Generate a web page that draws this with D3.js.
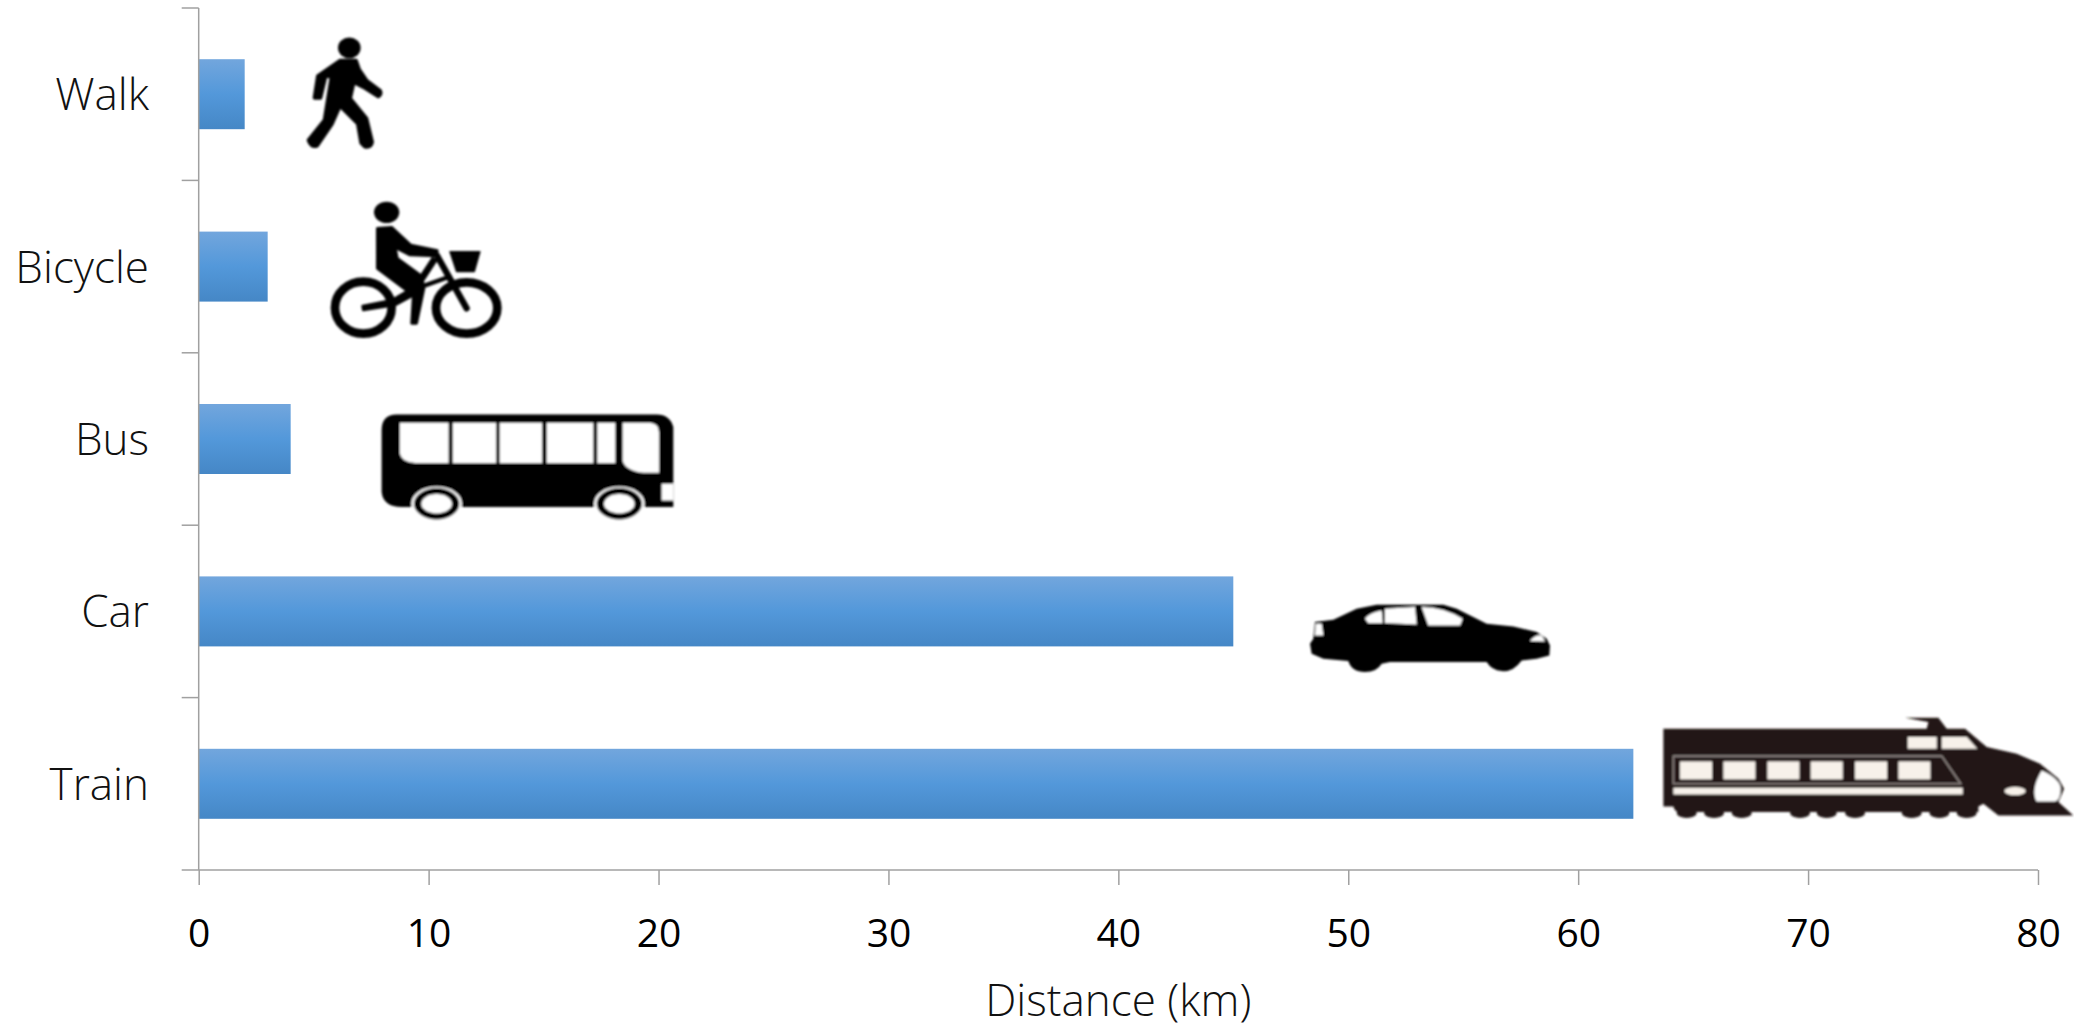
<!DOCTYPE html>
<html>
<head>
<meta charset="utf-8">
<style>
  html, body { margin: 0; padding: 0; background: #fff; }
  svg { display: block; }
  .cat { font-family: "Open Sans", sans-serif; font-weight: 300; font-size: 44px; fill: #111; }
  .num { font-family: "Open Sans", sans-serif; font-weight: 400; font-size: 39px; fill: #000; }
  .title { font-family: "Open Sans", sans-serif; font-weight: 300; font-size: 44px; fill: #111; }
</style>
<script src="https://cdn.jsdelivr.net/npm/d3@7"></script>
</head>
<body>
<script>
const categories = ["Walk", "Bicycle", "Bus", "Car", "Train"];
const distances = [2, 3, 4, 45, 62.4];
const xTicks = [0, 10, 20, 30, 40, 50, 60, 70, 80];
const xLabel = "Distance (km)";

const width = 2074, height = 1029;
const plot = { left: 198.7, right: 2038, top: 8, bottom: 870 };
const axisColor = "#a0a0a0";

const svg = d3.select("body").append("svg").attr("width", width).attr("height", height);
const defs = svg.append("defs");

const grad = defs.append("linearGradient").attr("id", "barFill")
  .attr("x1", 0).attr("y1", 0).attr("x2", 0).attr("y2", 1);
[[0, "#72a6dd"], [0.5, "#5398da"], [1, "#4587c6"]].forEach(([o, c]) =>
  grad.append("stop").attr("offset", o).attr("stop-color", c));

defs.append("filter").attr("id", "soft")
  .attr("x", "-5%").attr("y", "-5%").attr("width", "110%").attr("height", "110%")
  .append("feGaussianBlur").attr("stdDeviation", 2.4);

const x = d3.scaleLinear().domain([0, 80]).range([plot.left, plot.right]);
const y = d3.scaleBand().domain(categories).range([plot.top, plot.bottom]).paddingInner(0.594).paddingOuter(0.297);

// Bars
svg.append("g").selectAll("rect").data(distances).join("rect")
  .attr("x", x(0))
  .attr("y", (d, i) => y(categories[i]))
  .attr("width", d => x(d) - x(0))
  .attr("height", y.bandwidth())
  .attr("fill", "url(#barFill)");

// Horizontal axis
const xAxis = svg.append("g").attr("transform", `translate(0,${plot.bottom})`)
  .call(d3.axisBottom(x).tickValues(xTicks).tickSize(15).tickPadding(0).tickFormat(d3.format("d")));
xAxis.select(".domain").remove();
xAxis.selectAll("line").attr("stroke", axisColor).attr("stroke-width", 1.5);
xAxis.selectAll("text").attr("class", "num").attr("dy", null).attr("y", 77).attr("text-anchor", "middle");

svg.append("line").attr("x1", plot.left - 17).attr("x2", plot.right)
  .attr("y1", plot.bottom).attr("y2", plot.bottom)
  .attr("stroke", axisColor).attr("stroke-width", 1.5);

// Vertical axis: ticks sit on the category boundaries, labels in the middle of each band
const step = y.step();
svg.append("line").attr("x1", plot.left).attr("x2", plot.left)
  .attr("y1", plot.top).attr("y2", plot.bottom)
  .attr("stroke", axisColor).attr("stroke-width", 1.5);
svg.append("g").selectAll("line").data(categories).join("line")
  .attr("x1", plot.left - 17).attr("x2", plot.left)
  .attr("y1", (d, i) => plot.top + i * step).attr("y2", (d, i) => plot.top + i * step)
  .attr("stroke", axisColor).attr("stroke-width", 1.5);
svg.append("g").selectAll("text").data(categories).join("text")
  .attr("class", "cat").attr("text-anchor", "end")
  .attr("x", 149)
  .attr("y", d => y(d) + y.bandwidth() / 2 + 16)
  .text(d => d);

svg.append("text").attr("class", "title").attr("text-anchor", "middle")
  .attr("x", x(40)).attr("y", 1016).text(xLabel);

// Pictograms, drawn at 3 units per pixel from their own top-left corner
const black = "#000", ink = "#231815", paper = "#fff", cream = "#f7f1ea";

function walkIcon(g) {
  g.append("ellipse").attr("cx", 163).attr("cy", 53).attr("rx", 34).attr("ry", 31).attr("fill", black);
  g.append("path").attr("fill", black).attr("stroke", black).attr("stroke-width", 12).attr("stroke-linejoin", "round").attr("d",
    "M135,92 L183,92 L192,118 L215,152 L255,182 Q260,192 250,198 L205,170 L176,155 L165,205 L214,265 L231,335 Q228,352 210,349 L199,338 L189,280 L135,226 L111,280 L66,346 Q48,352 41,330 L89,270 L110,140 L92,136 L76,203 L59,203 L69,138 Z");
}

function bicycleIcon(g) {
  g.append("ellipse").attr("cx", 200).attr("cy", 52).attr("rx", 38).attr("ry", 32).attr("fill", black);
  g.append("path").attr("fill", black).attr("stroke", black).attr("stroke-width", 8).attr("stroke-linejoin", "round").attr("d",
    "M172,100 L215,97 L272,150 L352,167 L348,183 L270,180 L226,158 L232,190 L305,243 L312,280 L290,385 L275,385 L280,300 L258,285 L172,220 Z");
  g.append("path").attr("fill", black).attr("stroke", black).attr("stroke-width", 4).attr("stroke-linejoin", "round")
    .attr("d", "M390,170 L480,170 L463,230 L410,230 Z");
  g.selectAll("ellipse.wheel").data([[130, 338, 85, 78], [440, 339, 92, 77]]).join("ellipse")
    .attr("class", "wheel")
    .attr("cx", d => d[0]).attr("cy", d => d[1]).attr("rx", d => d[2]).attr("ry", d => d[3])
    .attr("fill", "none").attr("stroke", black).attr("stroke-width", 26);
  g.append("path").attr("fill", "none").attr("stroke", black).attr("stroke-linecap", "round").attr("stroke-width", 19)
    .attr("d", "M350,180 L440,340");
  g.append("path").attr("fill", "none").attr("stroke", black).attr("stroke-width", 20)
    .attr("d", "M345,190 L298,262");
  g.append("path").attr("fill", "none").attr("stroke", black).attr("stroke-width", 13)
    .attr("d", "M290,280 L380,248");
  g.append("path").attr("fill", black).attr("stroke", black).attr("stroke-width", 8).attr("stroke-linejoin", "round")
    .attr("d", "M128,333 L215,316 L280,278 L290,295 L225,330 L130,345 Z");
}

function busIcon(g) {
  g.append("path").attr("fill", black).attr("d",
    "M110,72 H890 Q930,72 940,110 V350 H125 Q70,350 65,305 V120 Q65,72 110,72 Z");
  g.append("path").attr("fill", paper).attr("d",
    "M120,97 H266 V218 H165 Q125,215 120,190 Z M279,97 H408 V218 H279 Z M419,97 H546 V218 H419 Z M560,97 H700 V218 H560 Z M712,97 H766 V218 H712 Z M788,97 H870 Q897,100 897,125 V247 H850 Q795,240 788,210 Z M905,280 H940 V330 H905 Z");
  [230, 778].forEach(cx => {
    g.append("ellipse").attr("cx", cx).attr("cy", 340).attr("rx", 76).attr("ry", 52).attr("fill", paper);
    g.append("ellipse").attr("cx", cx).attr("cy", 340).attr("rx", 68).attr("ry", 47).attr("fill", black);
    g.append("ellipse").attr("cx", cx).attr("cy", 340).attr("rx", 46).attr("ry", 29).attr("fill", paper);
  });
}

function carIcon(g) {
  g.append("path").attr("fill", black).attr("d",
    "M105,95 L160,88 L230,55 L290,43 L490,43 L530,55 L620,100 L700,108 L770,125 L800,145 L810,165 L808,195 L770,205 L725,210 Q700,245 665,242 Q635,240 620,215 L330,215 L305,220 Q290,245 255,245 Q215,245 205,212 L130,205 L95,190 L90,160 L100,145 Z");
  g.append("path").attr("fill", paper).attr("d",
    "M255,85 Q270,65 305,60 L308,98 L265,98 Z M315,55 L405,50 L410,102 L315,98 Z M425,50 Q490,50 548,85 L540,105 L445,105 Z M107,100 L125,100 L130,135 L105,135 Z M750,152 Q765,132 785,135 L795,153 Z");
}

function trainIcon(g) {
  g.append("path").attr("fill", ink).attr("d",
    "M795,52 H895 L920,85 H975 L1040,140 L1130,160 L1200,190 L1255,235 L1272,265 L1255,305 L1300,345 H1075 L1030,310 L1015,318 L1015,335 H130 Q105,340 100,318 H70 V85 H860 L865,65 Z");
  g.selectAll("ellipse.axle").data([140, 222, 305, 480, 560, 645, 815, 898, 980]).join("ellipse")
    .attr("class", "axle").attr("cx", d => d).attr("cy", 338).attr("rx", 30).attr("ry", 15).attr("fill", ink);
  g.append("path").attr("fill", "none").attr("stroke", "#8d8583").attr("stroke-width", 5)
    .attr("d", "M100,167 H905 L962,250 H100 Z");
  g.selectAll("rect.pane").data([120, 250, 382, 512, 645, 775]).join("rect")
    .attr("class", "pane").attr("x", d => d).attr("y", 183).attr("width", 96).attr("height", 54).attr("fill", cream);
  g.append("path").attr("fill", cream).attr("d",
    "M100,262 H968 V282 H100 Z M803,110 H890 V145 H803 Z M905,110 H980 L1012,145 H905 Z");
  g.append("path").attr("fill", paper).attr("d",
    "M1205,210 Q1260,235 1262,265 Q1260,300 1245,303 H1190 Q1170,270 1205,210 Z");
  g.append("ellipse").attr("cx", 1125).attr("cy", 272).attr("rx", 32).attr("ry", 12).attr("fill", cream);
}

const iconDrawers = [walkIcon, bicycleIcon, busIcon, carIcon, trainIcon];
const iconOffsets = [[50.3, -29], [52.3, -36.6], [69.3, -13.6], [46.7, 14], [6.7, -48.4]];

iconDrawers.forEach((draw, i) => {
  const [dx, dy] = iconOffsets[i];
  const g = svg.append("g").attr("transform", `translate(${x(distances[i]) + dx},${y(categories[i]) + dy}) scale(${1 / 3})`)
    .append("g").attr("filter", "url(#soft)");
  draw(g);
});
</script>
</body>
</html>
